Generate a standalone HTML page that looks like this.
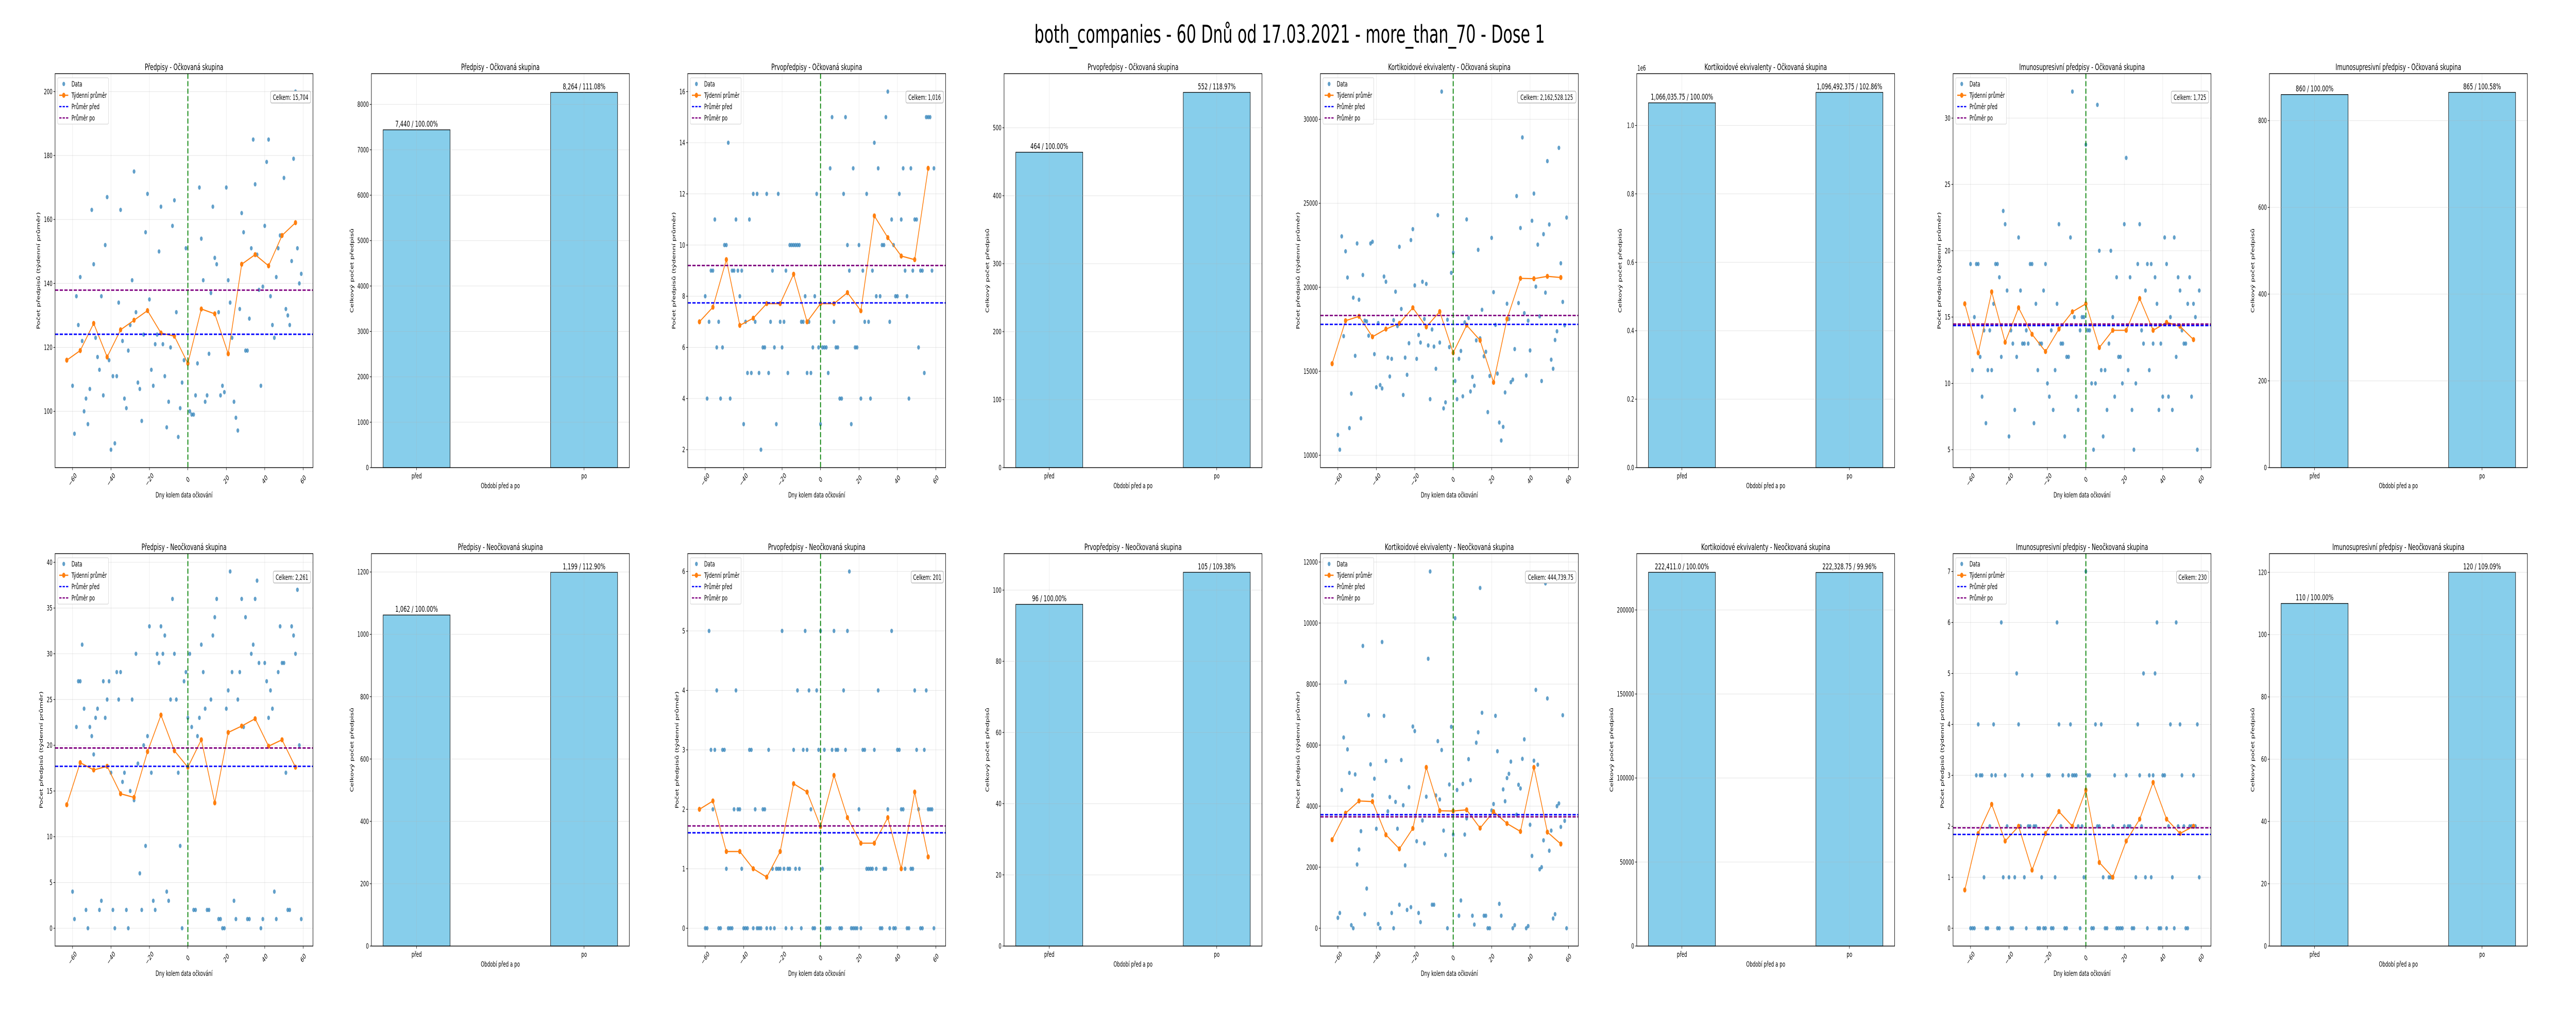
<!DOCTYPE html>
<html><head><meta charset="utf-8">
<style>
html,body{margin:0;padding:0;background:#fff;overflow:hidden;width:100%;height:100%;}
svg{display:block;width:100vw;height:100vh;font-family:"DejaVu Sans","Liberation Sans",sans-serif;}
</style></head>
<body>
<svg id="fig" xmlns="http://www.w3.org/2000/svg" viewBox="0 0 8000 2000" preserveAspectRatio="none">
<rect x="0" y="0" width="8000" height="2000" fill="#fff"/>
<text x="4005" y="83" font-size="48" text-anchor="middle" fill="#000">both_companies - 60 Dnů od 17.03.2021 - more_than_70 - Dose 1</text>
</svg>
<script>
// ---------- DATA ----------
const days = [-60,-59,-58,-57,-56,-55,-54,-53,-52,-51,-50,-49,-48,-47,-46,-45,-44,-43,-42,-41,-40,-39,-38,-37,-36,-35,-34,-33,-32,-31,-30,-29,-28,-27,-26,-25,-24,-23,-22,-21,-20,-19,-18,-17,-16,-15,-14,-13,-12,-11,-10,-9,-8,-7,-6,-5,-4,-3,-2,-1,0,1,2,3,4,5,6,7,8,9,10,11,12,13,14,15,16,17,18,19,20,21,22,23,24,25,26,27,28,29,30,31,32,33,34,35,36,37,38,39,40,41,42,43,44,45,46,47,48,49,50,51,52,53,54,55,56,57,58,59];
const weekDays = [-63,-56,-49,-42,-35,-28,-21,-14,-7,0,7,14,21,28,35,42,49,56];

const predVac = [108,93,136,127,142,122,100,104,96,107,163,146,123,117,113,136,105,152,167,116,88,111,90,111,134,163,122,104,101,119,127,141,175,131,109,107,97,124,156,168,135,113,108,121,124,150,164,121,111,95,103,120,158,166,131,92,101,109,116,151,115,100,99,99,105,115,170,154,141,103,105,118,137,164,148,146,131,105,108,106,170,141,134,123,103,98,94,132,162,156,119,119,129,151,185,171,149,138,108,139,158,178,185,136,127,123,142,151,155,197,173,132,130,127,147,179,200,151,140,143];
const predUnvac = [4,1,22,27,27,31,24,2,0,22,21,19,23,24,2,3,27,23,25,27,17,2,0,28,25,28,16,17,2,0,15,25,14,30,18,6,2,20,9,21,33,17,3,2,30,29,33,30,32,4,3,25,36,30,25,17,9,0,27,28,23,30,22,2,2,21,23,31,28,24,2,2,25,32,34,36,1,1,0,0,24,26,39,28,3,1,25,28,36,22,34,1,1,30,31,36,38,29,0,1,29,27,23,26,24,4,1,28,33,29,29,17,2,2,33,32,30,37,20,1];
const prvoVac = [8,4,7,9,9,11,6,7,4,6,10,10,14,4,9,9,11,9,8,9,3,7,5,11,5,12,7,12,5,2,6,6,12,5,7,9,6,3,12,7,6,7,9,5,10,10,10,10,10,10,7,7,8,5,7,5,6,8,12,6,3,6,6,6,5,13,15,7,6,6,4,4,12,15,10,9,3,13,6,6,10,4,9,7,12,7,4,9,14,8,13,8,10,10,15,16,7,11,10,8,8,12,11,13,9,8,4,13,9,11,11,6,9,9,5,15,15,15,9,13];
const prvoUnvac = [0,0,5,3,2,3,4,0,0,3,3,1,0,0,0,2,4,2,2,1,0,0,0,3,3,0,2,0,0,0,2,2,0,3,0,1,0,1,1,1,5,1,0,1,1,0,3,1,4,1,0,3,5,3,4,2,0,0,4,3,5,1,3,0,0,0,3,5,3,3,0,0,4,3,5,6,0,0,0,0,2,0,3,3,1,1,1,1,3,1,4,0,0,1,1,2,0,5,0,0,3,3,2,2,1,0,0,1,1,4,3,2,0,0,3,4,2,2,2,0];
const kortVac = [11210,10330,23030,17090,22140,20580,11620,13670,19380,15920,22610,19260,12200,20730,18010,17970,17120,22610,22710,16020,14050,17870,14180,13980,20640,20330,15810,14690,15740,18040,19740,17690,22410,18710,13590,15810,14790,16670,22810,23460,20110,15740,17160,16710,20330,18110,20200,16540,13340,17490,16470,15150,24290,16710,31650,12790,13150,18070,16440,20860,22060,14420,13340,15740,16210,13510,17910,24040,18170,13800,14670,14140,16840,22230,16960,18660,15890,16160,12570,14720,22940,19710,17760,14860,11950,10880,11690,13740,19020,18110,14350,14500,16320,25430,19060,23530,28920,18460,14750,18010,16240,23960,25580,20040,22540,18270,14420,23160,19680,27510,23740,15690,15150,16860,17380,28300,21430,19130,17740,24150];
const kortUnvac = [340,500,4530,6250,8070,5860,5090,100,0,5040,2090,2580,3180,9250,460,1300,6980,5370,4350,4900,3260,140,0,9380,6960,5480,3830,4300,500,0,4140,3260,770,5510,4030,2060,600,4620,690,6610,6460,2850,500,200,3530,2780,4310,8830,11690,770,770,4350,6130,4220,5840,3200,2400,0,4710,6600,3070,10160,4530,410,910,4730,3070,3600,5540,4850,410,120,6080,6420,11150,7060,410,410,0,0,3860,4070,6960,5800,800,410,4550,4160,4920,5060,5460,0,100,3720,4700,4580,5550,6190,0,70,3390,2370,5490,7810,5360,1930,2000,2880,11300,7530,2540,3200,320,460,4000,4090,3320,6980,3520,0];
const imunVac = [19,11,15,19,19,12,9,14,7,11,14,11,16,19,19,18,12,23,22,17,6,14,13,8,12,21,17,13,13,14,13,19,19,7,16,11,13,13,17,19,10,9,14,8,11,16,22,13,13,6,12,12,21,32,15,9,8,14,15,15,28,14,14,10,5,10,31,20,11,6,11,8,13,20,15,9,18,12,12,10,22,27,11,18,8,5,10,19,22,14,13,17,19,11,19,13,18,16,8,13,9,21,19,9,15,8,21,12,18,17,14,13,13,16,18,9,16,15,5,17];
const imunUnvac = [0,0,0,3,4,3,3,1,0,0,2,3,4,3,0,0,6,1,3,2,1,0,0,1,5,4,2,3,1,0,2,2,3,2,2,0,0,1,0,0,3,3,0,0,1,6,4,2,3,0,0,3,4,3,3,3,2,0,2,1,7,3,3,0,0,4,2,2,4,1,0,0,1,1,2,3,0,0,0,0,2,3,2,2,0,0,1,4,3,2,5,1,0,3,1,3,5,6,0,0,3,3,0,2,4,1,0,6,2,4,3,2,0,0,2,2,3,2,4,1];

const wkPredVac = [116,119,127.5,117,125.5,128.5,131.5,124.5,123.5,115,132,130.5,118,146,149,145.5,155,159];
const wkPredUnvac = [13.5,18.1,17.3,17.7,14.7,14.3,19.3,23.3,19.4,17.6,20.6,13.7,21.4,22.1,22.9,19.9,20.6,17.6];
const wkPrvoVac = [7.0,7.57,9.43,6.86,7.14,7.71,7.71,8.86,7.0,7.71,7.71,8.14,7.43,11.14,10.29,9.57,9.43,13.0];
const wkPrvoUnvac = [2.0,2.14,1.29,1.29,1.0,0.86,1.29,2.43,2.29,1.71,2.57,1.86,1.43,1.43,1.86,1.0,2.29,1.2];
const wkKortVac = [15450,18010,18270,17050,17510,17850,18780,17640,18550,16100,17740,16840,14340,18110,20530,20510,20650,20580];
const wkKortUnvac = [2900,3770,4170,4150,3060,2600,3270,5270,3850,3840,3880,3280,3820,3430,3170,5270,3150,2760];
const wkImunVac = [16,12.3,16.9,13.1,15.7,13.7,12.4,14.1,15.4,16.0,12.7,14.0,14.0,16.4,14.0,14.6,14.3,13.3];
const wkImunUnvac = [0.75,1.86,2.43,1.71,2.0,1.14,1.86,2.29,2.0,2.71,1.29,1.0,1.71,2.14,2.86,2.14,1.86,2.0];

// order: predVac, predUnvac, prvoVac, prvoUnvac, kortVac, kortUnvac, imunVac, imunUnvac
const meanBefore = [124.1,17.7,7.74,1.605,17790,3720,14.36,1.84];
const meanAfter = [137.9,19.7,9.2,1.72,18320,3650,14.47,1.97];
const totals = ["15,704","2,261","1,016","201","2,162,528.125","444,739.75","1,725","230"];
const barBefore = [7440,1062,464,96,1066035.75,222411.0,860,110];
const barAfter = [8264,1199,552,105,1096492.375,222328.75,865,120];
const barLabelBefore = ["7,440 / 100.00%","1,062 / 100.00%","464 / 100.00%","96 / 100.00%","1,066,035.75 / 100.00%","222,411.0 / 100.00%","860 / 100.00%","110 / 100.00%"];
const barLabelAfter = ["8,264 / 111.08%","1,199 / 112.90%","552 / 118.97%","105 / 109.38%","1,096,492.375 / 102.86%","222,328.75 / 99.96%","865 / 100.58%","120 / 109.09%"];
const barCategories = ["před","po"];

const scatterTicks = [
  [100,120,140,160,180,200],
  [0,5,10,15,20,25,30,35,40],
  [2,4,6,8,10,12,14,16],
  [0,1,2,3,4,5,6],
  [10000,15000,20000,25000,30000],
  [0,2000,4000,6000,8000,10000,12000],
  [5,10,15,20,25,30],
  [0,1,2,3,4,5,6,7]
];
const barTicks = [
  [0,1000,2000,3000,4000,5000,6000,7000,8000],
  [0,200,400,600,800,1000,1200],
  [0,100,200,300,400,500],
  [0,20,40,60,80,100],
  [0,200000,400000,600000,800000,1000000],
  [0,50000,100000,150000,200000],
  [0,200,400,600,800],
  [0,20,40,60,80,100,120]
];
const barTickLabels = [
  null,null,null,null,
  ["0.0","0.2","0.4","0.6","0.8","1.0"],
  null,null,null
];
const xTicks = [-60,-40,-20,0,20,40,60];
const groupNames = ["Předpisy","Prvopředpisy","Kortikoidové ekvivalenty","Imunosupresivní předpisy"];
const rowNames = ["Očkovaná skupina","Neočkovaná skupina"];

// ---------- LAYOUT ----------
const NS = "http://www.w3.org/2000/svg";
const svg = document.getElementById("fig");
const colLeft0 = 171, colStep = 982.4, axW = 801;
const rowTop = [143, 1075], rowBot = [908, 1837];
const XMIN = -69.1, XMAX = 65.1;

function mk(tag, parent) { const e = document.createElementNS(NS, tag); parent.appendChild(e); return e; }
function attrs(e, o) { for (const k in o) e.setAttribute(k, o[k]); return e; }
function txt(parent, s, o) { const t = mk("text", parent); attrs(t, o); t.textContent = s; return t; }
function fmtTick(v) { return (v < 0 ? "\u2212" + Math.abs(v) : String(v)); }

const seriesList = [[predVac,wkPredVac],[predUnvac,wkPredUnvac],[prvoVac,wkPrvoVac],[prvoUnvac,wkPrvoUnvac],[kortVac,wkKortVac],[kortUnvac,wkKortUnvac],[imunVac,wkImunVac],[imunUnvac,wkImunUnvac]];

function scatterPanel(g, r) {
  const idx = g * 2 + r;
  const vals = seriesList[idx][0], wk = seriesList[idx][1];
  const x0 = colLeft0 + colStep * (g * 2), x1 = x0 + axW, y0 = rowTop[r], y1 = rowBot[r];
  const all = vals.concat(wk);
  const lo = Math.min(...all), hi = Math.max(...all), m = (hi - lo) * 0.05;
  const YMIN = lo - m, YMAX = hi + m;
  const sx = d => x0 + (d - XMIN) / (XMAX - XMIN) * axW;
  const sy = v => y1 - (v - YMIN) / (YMAX - YMIN) * (y1 - y0);

  const G = mk("g", svg);
  
  

  const grid = mk("g", G);
  
  
  xTicks.forEach(t => { const X = sx(t); attrs(mk("line", grid), {x1:X,x2:X,y1:y0,y2:y1,stroke:"#b0b0b0","stroke-opacity":0.3,"stroke-width":1.1}); });
  scatterTicks[idx].forEach(t => { const Y = sy(t); attrs(mk("line", grid), {x1:x0,x2:x1,y1:Y,y2:Y,stroke:"#b0b0b0","stroke-opacity":0.3,"stroke-width":1.1}); });

  const pts = mk("g", G);
  
  
  vals.forEach((v, i) => {
    const c = mk("circle", pts);
    attrs(c, {cx: sx(days[i]), cy: sy(v), r: 4.3, fill: "#1f77b4", "fill-opacity": 0.7});
    
    
  });

  const wl = mk("polyline", G);
  attrs(wl, {points: wk.map((v, i) => sx(weekDays[i]) + "," + sy(v)).join(" "), fill: "none", stroke: "#ff7f0e", "stroke-width": 2.3});
  
  
  wk.forEach((v, i) => {
    const c = mk("circle", G);
    attrs(c, {cx: sx(weekDays[i]), cy: sy(v), r: 5, fill: "#ff7f0e"});
    
    
  });

  const mb = mk("line", G);
  attrs(mb, {x1:x0,x2:x1,y1:sy(meanBefore[idx]),y2:sy(meanBefore[idx]),stroke:"#0000ff","stroke-width":2.8,"stroke-dasharray":"10,4.5"});
  
  
  const ma = mk("line", G);
  attrs(ma, {x1:x0,x2:x1,y1:sy(meanAfter[idx]),y2:sy(meanAfter[idx]),stroke:"#800080","stroke-width":2.8,"stroke-dasharray":"10,4.5"});
  
  

  const vl = mk("line", G);
  attrs(vl, {x1:sx(0),x2:sx(0),y1:y0,y2:y1,stroke:"#008000","stroke-width":2.8,"stroke-dasharray":"10,4.5"});
  
  

  const fr = mk("rect", G);
  attrs(fr, {x:x0,y:y0,width:axW,height:y1-y0,fill:"none",stroke:"#000","stroke-width":1.4});
  
  

  const xa = mk("g", G);
  
  
  xTicks.forEach(t => {
    const X = sx(t);
    attrs(mk("line", xa), {x1:X,x2:X,y1:y1,y2:y1+5,stroke:"#000","stroke-width":1.1});
    const tl = txt(xa, fmtTick(t), {x:X, y:y1+28, "font-size":14, "text-anchor":"middle", transform:"rotate(-45 " + X + " " + (y1+23) + ")"});
    
    
  });
  const ya = mk("g", G);
  
  
  let maxLen = 0;
  scatterTicks[idx].forEach(t => {
    const Y = sy(t);
    attrs(mk("line", ya), {x1:x0-5,x2:x0,y1:Y,y2:Y,stroke:"#000","stroke-width":1.1});
    const tl = txt(ya, fmtTick(t), {x:x0-8, y:Y+5, "font-size":14, "text-anchor":"end"});
    
    
    maxLen = Math.max(maxLen, String(t).length);
  });
  const ylx = x0 - 20 - maxLen * 8.9;
  const yl = txt(G, "Počet předpisů (týdenní průměr)", {x:ylx, y:(y0+y1)/2, "font-size":14, "text-anchor":"middle", transform:"rotate(-90 " + ylx + " " + (y0+y1)/2 + ")"});
  
  
  const xl = txt(G, "Dny kolem data očkování", {x:(x0+x1)/2, y:y1+58, "font-size":14, "text-anchor":"middle"});
  
  
  const tt = txt(G, groupNames[g] + " - " + rowNames[r], {x:(x0+x1)/2, y:y0-7, "font-size":17, "text-anchor":"middle"});
  
  

  const lg = mk("g", G);
  
  
  const lx = x0 + 8, ly = y0 + 8;
  attrs(mk("rect", lg), {x:lx,y:ly,width:158,height:90,rx:3,fill:"#fff","fill-opacity":0.85,stroke:"#cccccc","stroke-width":1});
  const labels = ["Data","Týdenní průměr","Průměr před","Průměr po"];
  labels.forEach((s, k) => {
    const cy = ly + 12 + k * 22;
    const e = mk("g", lg);
    
    
    if (k === 0) attrs(mk("circle", e), {cx:lx+19, cy:cy, r:4.3, fill:"#1f77b4", "fill-opacity":0.7});
    if (k === 1) { attrs(mk("line", e), {x1:lx+5,x2:lx+33,y1:cy,y2:cy,stroke:"#ff7f0e","stroke-width":2.5}); attrs(mk("circle", e), {cx:lx+19, cy:cy, r:5, fill:"#ff7f0e"}); }
    if (k === 2) attrs(mk("line", e), {x1:lx+5,x2:lx+33,y1:cy,y2:cy,stroke:"#0000ff","stroke-width":2.5,"stroke-dasharray":"7,3.5"});
    if (k === 3) attrs(mk("line", e), {x1:lx+5,x2:lx+33,y1:cy,y2:cy,stroke:"#800080","stroke-width":2.5,"stroke-dasharray":"7,3.5"});
    txt(e, s, {x:lx+43, y:cy+5, "font-size":14});
  });

  const tb = mk("g", G);
  
  
  const label = "Celkem: " + totals[idx];
  const bw = label.length * 8.2 + 10;
  attrs(mk("rect", tb), {x:x1-7-bw, y:y0+34, width:bw, height:23, rx:4, fill:"#fff", stroke:"#aaaaaa", "stroke-width":1.2});
  txt(tb, label, {x:x1-7-bw/2, y:y0+51, "font-size":14, "text-anchor":"middle"});
}

function barPanel(g, r) {
  const idx = g * 2 + r;
  const x0 = colLeft0 + colStep * (g * 2 + 1), x1 = x0 + axW, y0 = rowTop[r], y1 = rowBot[r];
  const vals = [barBefore[idx], barAfter[idx]];
  const labs = [barLabelBefore[idx], barLabelAfter[idx]];
  const YMAX = Math.max(...vals) * 1.05;
  const BXMIN = -0.27, BXMAX = 1.27;
  const sx = d => x0 + (d - BXMIN) / (BXMAX - BXMIN) * axW;
  const sy = v => y1 - v / YMAX * (y1 - y0);

  const G = mk("g", svg);
  
  

  vals.forEach((v, i) => {
    const b = mk("rect", G);
    attrs(b, {x:sx(i-0.2), y:sy(v), width:sx(0.4)-sx(0), height:sy(0)-sy(v), fill:"#87ceeb", stroke:"#000", "stroke-width":1.3});
    
    
    const vl = txt(G, labs[i], {x:sx(i), y:sy(v)-6, "font-size":16, "text-anchor":"middle"});
    
    
  });

  const grid = mk("g", G);
  
  
  [0,1].forEach(t => { const X = sx(t); attrs(mk("line", grid), {x1:X,x2:X,y1:y0,y2:y1,stroke:"#b0b0b0","stroke-opacity":0.3,"stroke-width":1.1}); });
  barTicks[idx].forEach(t => { const Y = sy(t); attrs(mk("line", grid), {x1:x0,x2:x1,y1:Y,y2:Y,stroke:"#b0b0b0","stroke-opacity":0.3,"stroke-width":1.1}); });

  const fr = mk("rect", G);
  attrs(fr, {x:x0,y:y0,width:axW,height:y1-y0,fill:"none",stroke:"#000","stroke-width":1.4});
  
  

  const xa = mk("g", G);
  
  
  barCategories.forEach((c, i) => {
    const X = sx(i);
    attrs(mk("line", xa), {x1:X,x2:X,y1:y1,y2:y1+5,stroke:"#000","stroke-width":1.1});
    const tl = txt(xa, c, {x:X, y:y1+21, "font-size":14, "text-anchor":"middle"});
    
    
  });
  const ya = mk("g", G);
  
  
  let maxLen = 0;
  barTicks[idx].forEach((t, k) => {
    const Y = sy(t);
    const s = barTickLabels[idx] ? barTickLabels[idx][k] : String(t);
    attrs(mk("line", ya), {x1:x0-5,x2:x0,y1:Y,y2:Y,stroke:"#000","stroke-width":1.1});
    const tl = txt(ya, s, {x:x0-8, y:Y+5, "font-size":14, "text-anchor":"end"});
    
    
    maxLen = Math.max(maxLen, s.length);
  });
  if (barTickLabels[idx]) {
    const off = txt(G, "1e6", {x:x0+2, y:y0-6, "font-size":14});
    
    
  }
  const ylx = x0 - 20 - maxLen * 8.9;
  const yl = txt(G, "Celkový počet předpisů", {x:ylx, y:(y0+y1)/2, "font-size":14, "text-anchor":"middle", transform:"rotate(-90 " + ylx + " " + (y0+y1)/2 + ")"});
  
  
  const xl = txt(G, "Období před a po", {x:(x0+x1)/2, y:y1+40, "font-size":14, "text-anchor":"middle"});
  
  
  const tt = txt(G, groupNames[g] + " - " + rowNames[r], {x:(x0+x1)/2, y:y0-7, "font-size":17, "text-anchor":"middle"});
  
  
}

for (let g = 0; g < 4; g++) for (let r = 0; r < 2; r++) { scatterPanel(g, r); barPanel(g, r); }
</script>
</body></html>
